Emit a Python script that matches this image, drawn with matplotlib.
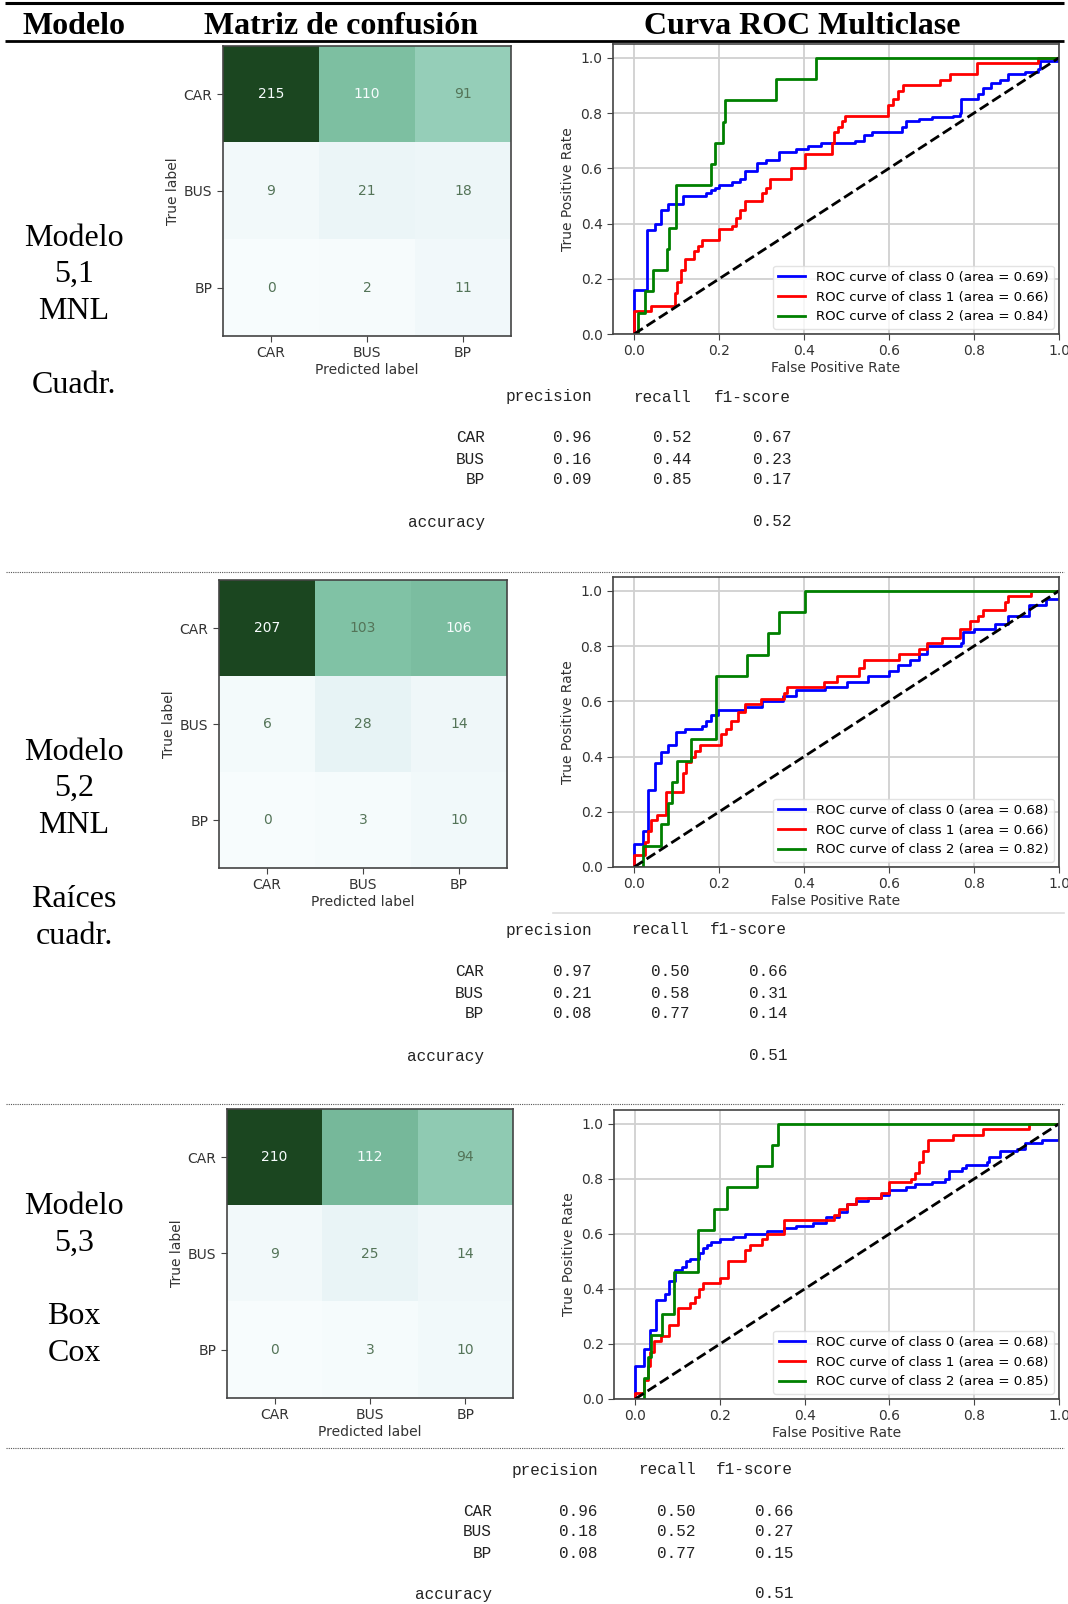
import numpy as np
import matplotlib
matplotlib.use("Agg")
import matplotlib.pyplot as plt
from matplotlib.colors import to_rgb, LinearSegmentedColormap

# ---------------------------------------------------------------------------
# Data
# ---------------------------------------------------------------------------
class_labels = ["CAR", "BUS", "BP"]

cm_51 = [[215, 110, 91], [9, 21, 18], [0, 2, 11]]
cm_52 = [[207, 103, 106], [6, 28, 14], [0, 3, 10]]
cm_53 = [[210, 112, 94], [9, 25, 14], [0, 3, 10]]

# ROC curves: points (fpr, tpr) where the curve steps up to tpr
roc51_c0_fpr = [0, 0, 0.031, 0.049, 0.064, 0.08, 0.114, 0.17, 0.18, 0.19, 0.20, 0.23, 0.25, 0.26, 0.29, 0.31,
                0.34, 0.38, 0.41, 0.44, 0.52, 0.54, 0.56, 0.63, 0.64, 0.67, 0.70, 0.75, 0.767, 0.77, 0.81,
                0.82, 0.84, 0.86, 0.88, 0.92, 0.95, 0.955, 1.0]
roc51_c0_tpr = [0, 0.16, 0.375, 0.40, 0.45, 0.47, 0.50, 0.51, 0.52, 0.53, 0.54, 0.55, 0.56, 0.59, 0.62, 0.63,
                0.66, 0.67, 0.68, 0.69, 0.70, 0.72, 0.73, 0.75, 0.77, 0.78, 0.785, 0.79, 0.80, 0.85, 0.87,
                0.89, 0.91, 0.92, 0.94, 0.95, 0.96, 0.99, 1.0]
roc51_c1_fpr = [0, 0, 0.04, 0.096, 0.10, 0.11, 0.12, 0.14, 0.15, 0.16, 0.20, 0.23, 0.24, 0.25, 0.26, 0.30,
                0.31, 0.32, 0.37, 0.403, 0.465, 0.47, 0.48, 0.49, 0.496, 0.598, 0.61, 0.62, 0.633, 0.721,
                0.743, 0.808, 0.951, 1.0]
roc51_c1_tpr = [0, 0.085, 0.10, 0.15, 0.19, 0.23, 0.27, 0.30, 0.32, 0.34, 0.38, 0.39, 0.42, 0.45, 0.48, 0.51,
                0.53, 0.56, 0.60, 0.65, 0.69, 0.73, 0.75, 0.77, 0.79, 0.83, 0.85, 0.88, 0.90, 0.92,
                0.94, 0.98, 1.0, 1.0]
roc51_c2_fpr = [0, 0.009, 0.025, 0.043, 0.076, 0.082, 0.098, 0.18, 0.19, 0.208, 0.213, 0.334, 0.429, 1.0]
roc51_c2_tpr = [0, 0.077, 0.154, 0.231, 0.308, 0.385, 0.538, 0.615, 0.692, 0.769, 0.846, 0.923, 1.0, 1.0]

roc52_c0_fpr = [0, 0, 0.02, 0.033, 0.048, 0.064, 0.08, 0.098, 0.12, 0.16, 0.17, 0.18, 0.197, 0.26, 0.30, 0.35,
                0.38, 0.45, 0.50, 0.55, 0.60, 0.62, 0.65, 0.67, 0.69, 0.77, 0.775, 0.80, 0.85, 0.88, 0.93,
                0.97, 1.0, 1.0]
roc52_c0_tpr = [0, 0.085, 0.13, 0.28, 0.376, 0.418, 0.44, 0.49, 0.50, 0.51, 0.53, 0.55, 0.57, 0.58, 0.60, 0.62,
                0.64, 0.65, 0.67, 0.69, 0.71, 0.73, 0.75, 0.77, 0.80, 0.81, 0.85, 0.86, 0.88, 0.91, 0.95,
                0.97, 0.98, 1.0]
roc52_c1_fpr = [0, 0, 0.025, 0.033, 0.04, 0.054, 0.074, 0.115, 0.123, 0.133, 0.142, 0.154, 0.205, 0.216,
                0.228, 0.244, 0.26, 0.298, 0.353, 0.36, 0.447, 0.478, 0.529, 0.541, 0.623, 0.67, 0.689,
                0.724, 0.767, 0.79, 0.81, 0.822, 0.873, 0.88, 0.935, 1.0]
roc52_c1_tpr = [0, 0.045, 0.09, 0.13, 0.17, 0.19, 0.27, 0.34, 0.38, 0.40, 0.42, 0.44, 0.48, 0.50,
                0.53, 0.56, 0.59, 0.61, 0.63, 0.65, 0.67, 0.69, 0.72, 0.75, 0.77, 0.79, 0.81,
                0.83, 0.86, 0.89, 0.91, 0.93, 0.96, 0.98, 1.0, 1.0]
roc52_c2_fpr = [0, 0.02, 0.064, 0.08, 0.09, 0.10, 0.133, 0.193, 0.266, 0.314, 0.341, 0.402, 1.0]
roc52_c2_tpr = [0, 0.077, 0.154, 0.231, 0.308, 0.385, 0.462, 0.692, 0.769, 0.846, 0.923, 1.0, 1.0]

roc53_c0_fpr = [0, 0, 0.02, 0.035, 0.05, 0.07, 0.08, 0.095, 0.11, 0.12, 0.13, 0.15, 0.16, 0.17, 0.18, 0.20,
                0.23, 0.26, 0.31, 0.35, 0.38, 0.42, 0.45, 0.48, 0.50, 0.52, 0.55, 0.58, 0.60, 0.64, 0.66,
                0.70, 0.73, 0.74, 0.77, 0.78, 0.83, 0.835, 0.86, 0.90, 0.92, 0.96, 1.0, 1.0]
roc53_c0_tpr = [0, 0.12, 0.18, 0.25, 0.36, 0.38, 0.43, 0.47, 0.48, 0.50, 0.51, 0.53, 0.55, 0.56, 0.57, 0.58,
                0.59, 0.60, 0.61, 0.62, 0.63, 0.64, 0.66, 0.68, 0.71, 0.72, 0.73, 0.74, 0.76, 0.77, 0.78,
                0.79, 0.80, 0.83, 0.84, 0.85, 0.86, 0.88, 0.90, 0.91, 0.93, 0.94, 0.96, 1.0]
roc53_c1_fpr = [0, 0, 0.02, 0.03, 0.035, 0.045, 0.06, 0.08, 0.10, 0.13, 0.14, 0.15, 0.16, 0.20, 0.22, 0.26,
                0.27, 0.30, 0.31, 0.35, 0.47, 0.48, 0.50, 0.52, 0.58, 0.60, 0.65, 0.66, 0.67, 0.68, 0.69,
                0.75, 0.82, 0.93, 1.0]
roc53_c1_tpr = [0, 0.02, 0.07, 0.12, 0.17, 0.21, 0.23, 0.27, 0.33, 0.35, 0.37, 0.40, 0.42, 0.44, 0.50, 0.54,
                0.56, 0.58, 0.60, 0.65, 0.67, 0.69, 0.71, 0.73, 0.75, 0.79, 0.80, 0.82, 0.86, 0.90, 0.94,
                0.96, 0.98, 1.0, 1.0]
roc53_c2_fpr = [0, 0.02, 0.03, 0.037, 0.063, 0.092, 0.149, 0.185, 0.216, 0.287, 0.322, 0.338, 1.0]
roc53_c2_tpr = [0, 0.077, 0.154, 0.231, 0.308, 0.462, 0.615, 0.692, 0.769, 0.846, 0.923, 1.0, 1.0]

auc_51 = [0.69, 0.66, 0.84]
auc_52 = [0.68, 0.66, 0.82]
auc_53 = [0.68, 0.68, 0.85]

# Classification reports: precision, recall, f1-score per class, plus accuracy
report_51 = [[0.96, 0.52, 0.67], [0.16, 0.44, 0.23], [0.09, 0.85, 0.17]]
report_52 = [[0.97, 0.50, 0.66], [0.21, 0.58, 0.31], [0.08, 0.77, 0.14]]
report_53 = [[0.96, 0.50, 0.66], [0.18, 0.52, 0.27], [0.08, 0.77, 0.15]]
accuracy_51 = 0.52
accuracy_52 = 0.51
accuracy_53 = 0.51

model_names_51 = ["Modelo", "5,1", "MNL", "", "Cuadr."]
model_names_52 = ["Modelo", "5,2", "MNL", "", "Raíces", "cuadr."]
model_names_53 = ["Modelo", "5,3", "", "Box", "Cox"]

headers = ["Modelo", "Matriz de confusión", "Curva ROC Multiclase"]
report_columns = ["precision", "recall", "f1-score"]

# ---------------------------------------------------------------------------
# Layout helpers (pixel based)
# ---------------------------------------------------------------------------
W, H = 1068, 1604
fig = plt.figure(figsize=(W / 100, H / 100), dpi=100)
fig.patch.set_facecolor("white")

def rect(l, t, r, b):
    return [l / W, 1 - b / H, (r - l) / W, (b - t) / H]

canvas = fig.add_axes([0, 0, 1, 1])
canvas.set_xlim(0, W)
canvas.set_ylim(H, 0)
canvas.axis("off")

SERIF = "Liberation Serif"
MONO = "Liberation Mono"
LABEL_COLOR = "#333333"

# Table rules
canvas.plot([5, 1064], [2.5, 2.5], color="black", lw=2.2, solid_capstyle="butt")
canvas.plot([5, 1064], [40.5, 40.5], color="black", lw=2.0, solid_capstyle="butt")
for y in (572, 1104, 1448):
    canvas.plot([6, 1064], [y, y], color="#555555", lw=0.8, linestyle=(0, (1, 1)))
canvas.plot([553, 1064], [912.5, 912.5], color="#dddddd", lw=1.2)

# Header row
for txt, xc in zip(headers, (74, 333 * 1068 / 1044, 784 * 1068 / 1044)):
    canvas.text(xc, 26, txt, ha="center", va="center", fontfamily=SERIF,
                fontweight="bold", fontsize=23, color="black")

# Model names in the first column
def model_label(lines, y0):
    for i, line in enumerate(lines):
        if line:
            canvas.text(74, y0 + i * 36.8, line, ha="center", va="center",
                        fontfamily=SERIF, fontsize=23, color="black")

model_label(model_names_51, 238)
model_label(model_names_52, 752)
model_label(model_names_53, 1206.5)

# ---------------------------------------------------------------------------
# Confusion matrices
# ---------------------------------------------------------------------------
cmap = LinearSegmentedColormap.from_list(
    "bugn_soft",
    [(0.0, "#f7fcfd"), (0.13, "#e8f4f6"), (0.25, "#cde9e2"), (0.42, "#97cfb9"),
     (0.50, "#80c2a5"), (0.53, "#77b99b"), (1.0, "#1b4620")])

def mix(c, w):
    r = np.array(to_rgb(c))
    return tuple(r * (1 - w) + np.ones(3) * w)

def confusion(ax, cm):
    cm = np.array(cm)
    ax.imshow(cm, cmap=cmap, interpolation="nearest", aspect="auto",
              vmin=cm.min(), vmax=cm.max())
    thresh = (cm.max() + cm.min()) / 2.0
    dark_txt = mix(cmap(1.0), 0.25)
    light_txt = mix(cmap(0.0), 0.0)
    for i in range(cm.shape[0]):
        for j in range(cm.shape[1]):
            color = dark_txt if cm[i, j] < thresh else light_txt
            ax.text(j, i, str(cm[i, j]), ha="center", va="center",
                    color=color, fontsize=10)
    ax.set_xticks(range(len(class_labels)))
    ax.set_yticks(range(len(class_labels)))
    ax.set_xticklabels(class_labels)
    ax.set_yticklabels(class_labels)
    ax.set_xlabel("Predicted label", fontsize=10, color=LABEL_COLOR, labelpad=2)
    ax.set_ylabel("True label", fontsize=10, color=LABEL_COLOR, labelpad=3)
    ax.tick_params(labelsize=10, labelcolor=LABEL_COLOR, color="#444444", length=4)
    for s in ax.spines.values():
        s.set_color("#444444")
        s.set_linewidth(1.2)

confusion(fig.add_axes(rect(223, 46, 511, 336)), cm_51)
confusion(fig.add_axes(rect(219, 580, 507, 868)), cm_52)
confusion(fig.add_axes(rect(227, 1109, 513, 1398)), cm_53)

# ---------------------------------------------------------------------------
# ROC curves
# ---------------------------------------------------------------------------
roc_colors = ["blue", "red", "green"]

def roc(ax, curves, aucs):
    for k, ((fpr, tpr), auc, col) in enumerate(zip(curves, aucs, roc_colors)):
        ax.plot(fpr, tpr, drawstyle="steps-post", color=col, lw=2,
                label=f"ROC curve of class {k} (area = {auc:0.2f})")
    ax.plot([0, 1], [0, 1], "k--", lw=2)
    ax.set_xlim(-0.05, 1.0)
    ax.set_ylim(0.0, 1.05)
    ax.set_xticks([0.0, 0.2, 0.4, 0.6, 0.8, 1.0])
    ax.set_yticks([0.0, 0.2, 0.4, 0.6, 0.8, 1.0])
    ax.grid(True, color="#d0d0d0", lw=1.3)
    ax.set_axisbelow(True)
    ax.set_xlabel("False Positive Rate", fontsize=10, color=LABEL_COLOR, labelpad=2)
    ax.set_ylabel("True Positive Rate", fontsize=10, color=LABEL_COLOR, labelpad=4)
    ax.tick_params(labelsize=10, labelcolor=LABEL_COLOR, color="#444444", length=4)
    for s in ax.spines.values():
        s.set_color("#444444")
        s.set_linewidth(1.2)
    leg = ax.legend(loc="lower right", fontsize=9.6, frameon=True,
                    handlelength=2.0, borderaxespad=0.4)
    leg.get_frame().set_edgecolor("#dddddd")

roc(fig.add_axes(rect(613, 44, 1059, 334)),
    [(roc51_c0_fpr, roc51_c0_tpr), (roc51_c1_fpr, roc51_c1_tpr), (roc51_c2_fpr, roc51_c2_tpr)],
    auc_51)
roc(fig.add_axes(rect(613, 577, 1059, 867)),
    [(roc52_c0_fpr, roc52_c0_tpr), (roc52_c1_fpr, roc52_c1_tpr), (roc52_c2_fpr, roc52_c2_tpr)],
    auc_52)
roc(fig.add_axes(rect(614, 1110, 1059, 1399)),
    [(roc53_c0_fpr, roc53_c0_tpr), (roc53_c1_fpr, roc53_c1_tpr), (roc53_c2_fpr, roc53_c2_tpr)],
    auc_53)

# ---------------------------------------------------------------------------
# Classification reports
# ---------------------------------------------------------------------------
def report(values, acc, label_x, col_x, ys):
    kw = dict(ha="right", va="center", fontfamily=MONO, fontsize=11.5, color="#222222")
    for name, x in zip(report_columns, col_x):
        canvas.text(x, ys[0], name, **kw)
    for lab, row, y in zip(class_labels, values, ys[1:4]):
        canvas.text(label_x, y, lab, **kw)
        for v, x in zip(row, col_x):
            canvas.text(x, y, f"{v:.2f}", **kw)
    canvas.text(label_x, ys[4], "accuracy", **kw)
    canvas.text(col_x[2], ys[4], f"{acc:.2f}", **kw)

report(report_51, accuracy_51, 485, (592, 691, 791), (397, 438, 459, 480, 522))
report(report_52, accuracy_52, 484, (592, 689, 787), (930, 972, 993, 1014, 1056))
report(report_53, accuracy_53, 492, (598, 696, 793), (1470, 1511, 1532, 1553, 1594))

fig.savefig("out.png", dpi=100, facecolor="white")
